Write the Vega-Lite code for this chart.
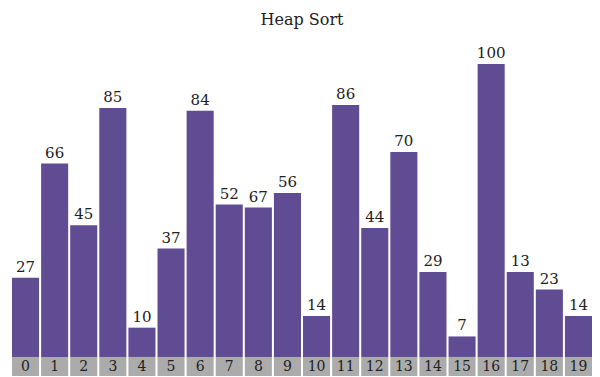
{
  "$schema": "https://vega.github.io/schema/vega-lite/v6.json",
  "autosize": "none",
  "width": 580,
  "height": 312,
  "padding": {"left": 12, "top": 64, "right": 8, "bottom": 1},
  "background": "white",
  "view": {"stroke": null},
  "title": {"text": "Heap Sort", "font": "DejaVu Serif", "fontSize": 16, "fontWeight": "normal", "color": "#222", "anchor": "middle", "offset": 18},
  "data": {"values": [
    {"i": 0, "v": 27, "h": 27}, {"i": 1, "v": 66, "h": 66}, {"i": 2, "v": 45, "h": 45}, {"i": 3, "v": 85, "h": 85},
    {"i": 4, "v": 10, "h": 10}, {"i": 5, "v": 37, "h": 37}, {"i": 6, "v": 84, "h": 84}, {"i": 7, "v": 52, "h": 52},
    {"i": 8, "v": 67, "h": 51}, {"i": 9, "v": 56, "h": 56}, {"i": 10, "v": 14, "h": 14}, {"i": 11, "v": 86, "h": 86},
    {"i": 12, "v": 44, "h": 44}, {"i": 13, "v": 70, "h": 70}, {"i": 14, "v": 29, "h": 29}, {"i": 15, "v": 7, "h": 7},
    {"i": 16, "v": 100, "h": 100}, {"i": 17, "v": 13, "h": 29}, {"i": 18, "v": 23, "h": 23}, {"i": 19, "v": 14, "h": 14}
  ]},
  "encoding": {
    "x": {"field": "i", "type": "ordinal", "sort": null,
          "scale": {"paddingInner": 0.07, "paddingOuter": 0}, "axis": null}
  },
  "layer": [
    {
      "mark": {"type": "bar", "color": "#604c92"},
      "encoding": {
        "y": {"field": "h", "type": "quantitative", "scale": {"domain": [-6.5, 100], "nice": false, "zero": false}, "axis": null},
        "y2": {"datum": 0}
      }
    },
    {
      "mark": {"type": "bar", "color": "#ababab"},
      "encoding": {
        "y": {"datum": 0, "type": "quantitative"},
        "y2": {"datum": -6.5}
      }
    },
    {
      "mark": {"type": "text", "font": "DejaVu Serif", "fontSize": 15, "color": "#222", "baseline": "bottom", "dy": -3},
      "encoding": {
        "y": {"field": "h", "type": "quantitative"},
        "text": {"field": "v", "type": "quantitative"}
      }
    },
    {
      "mark": {"type": "text", "font": "DejaVu Serif", "fontSize": 14, "color": "#222", "baseline": "middle", "dy": 1},
      "encoding": {
        "y": {"datum": -3.25, "type": "quantitative"},
        "text": {"field": "i", "type": "nominal"}
      }
    }
  ]
}
